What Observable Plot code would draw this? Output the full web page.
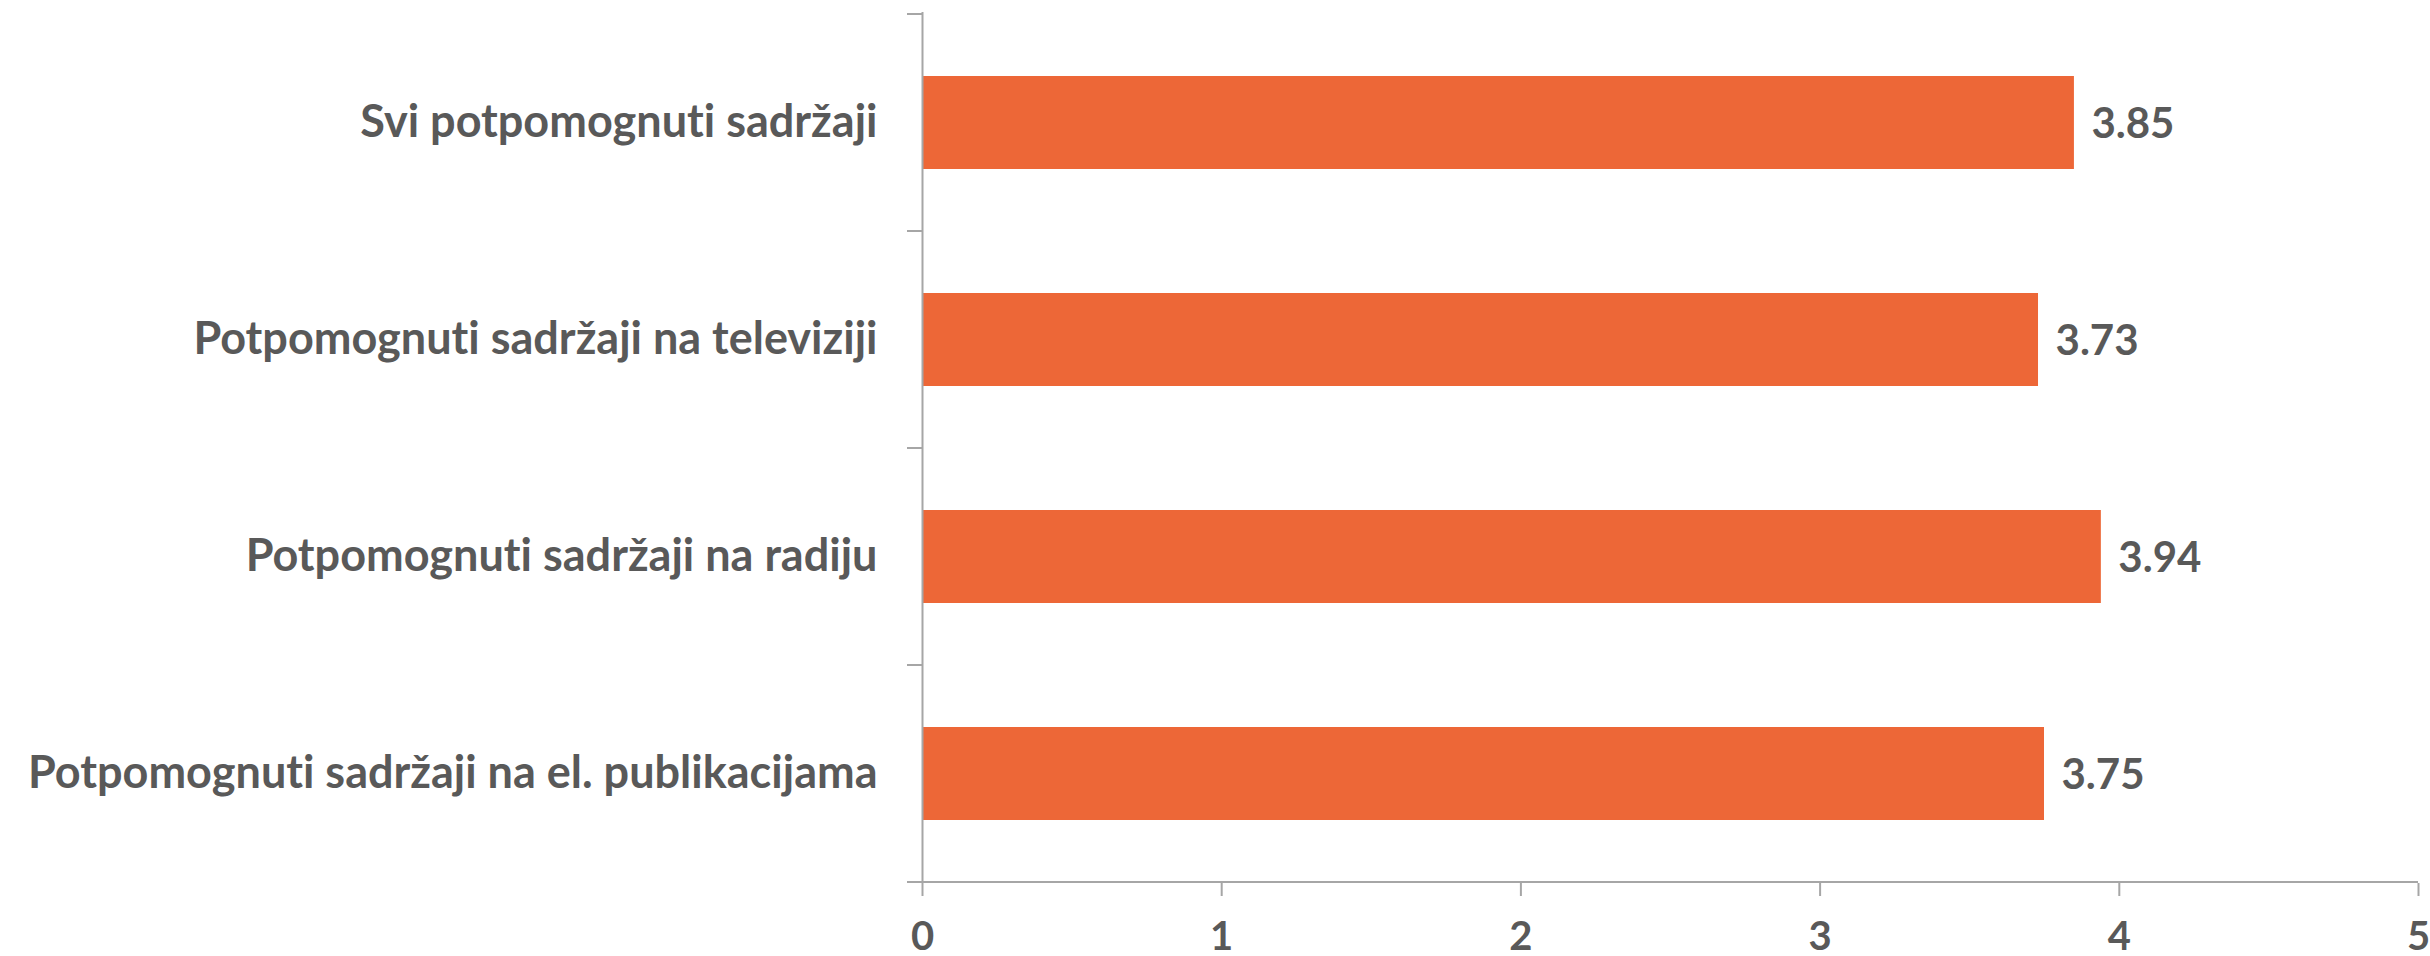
<!DOCTYPE html>
<html>
<head>
<meta charset="utf-8">
<script src="https://cdn.jsdelivr.net/npm/d3@7"></script>
<script src="https://cdn.jsdelivr.net/npm/@observablehq/plot@0.6"></script>
<style>
  html, body { margin: 0; padding: 0; background: #ffffff; }
  #chart svg { display: block; font-variant-ligatures: none; font-feature-settings: "liga" 0, "clig" 0; }
  #chart svg text { font-variant-ligatures: none; font-feature-settings: "liga" 0, "clig" 0; }
</style>
</head>
<body>
<div id="chart"></div>
<script>
const categories = [
  "Svi potpomognuti sadržaji",
  "Potpomognuti sadržaji na televiziji",
  "Potpomognuti sadržaji na radiju",
  "Potpomognuti sadržaji na el. publikacijama"
];
const values = [3.85, 3.73, 3.94, 3.75];
const xTicks = [0, 1, 2, 3, 4, 5];

const data = categories.map((c, i) => ({category: c, value: values[i]}));

const textColor = "#595959";
const axisColor = "#a6a6a6";
const barColor = "#ED6737";

const chart = Plot.plot({
  width: 2430,
  height: 956,
  marginLeft: 922,
  marginRight: 12,
  marginTop: 12,
  marginBottom: 73,
  style: {fontFamily: "Lato", fontWeight: "bold", fontSize: "42px", color: textColor, background: "#ffffff", overflow: "visible"},
  x: {domain: [0, 5], label: null},
  y: {domain: categories, paddingInner: 0.573, paddingOuter: 0.2865, label: null},
  marks: [
    Plot.barX(data, {x: "value", y: "category", fill: barColor}),
    Plot.text(data, {x: "value", y: "category", text: d => d.value.toFixed(2), textAnchor: "start", dx: 17, dy: 2, fill: textColor, fontSize: 42, fontWeight: "bold"}),
    Plot.ruleX([0], {stroke: axisColor, strokeWidth: 2}),
    Plot.axisY({tickSize: 0, tickPadding: 45, fontSize: 45, fill: textColor, label: null}),
    Plot.axisX({ticks: xTicks, tickFormat: d => String(d), tickSize: 13, tickPadding: 25, stroke: axisColor, strokeWidth: 2, strokeOpacity: 1, fill: textColor, fontSize: 40, label: null})
  ]
});

// category boundary ticks and baseline, positioned from the plot's scales
const ys = chart.scale("y");
const xs = chart.scale("x");
const step = ys.step;
const off = (step - ys.bandwidth) / 2;
const x0 = xs.apply(0);
const svg = d3.select(chart);
const g = svg.append("g").attr("stroke", axisColor).attr("stroke-width", 2);
const bounds = categories.map(c => ys.apply(c) - off);
bounds.push(bounds[bounds.length - 1] + step);
bounds.forEach(y => {
  g.append("line").attr("x1", x0 - 15).attr("x2", x0).attr("y1", y).attr("y2", y);
});
g.append("line")
  .attr("x1", x0 - 15).attr("x2", xs.apply(xTicks[xTicks.length - 1]))
  .attr("y1", bounds[bounds.length - 1]).attr("y2", bounds[bounds.length - 1]);

document.getElementById("chart").appendChild(chart);
</script>
</body>
</html>
